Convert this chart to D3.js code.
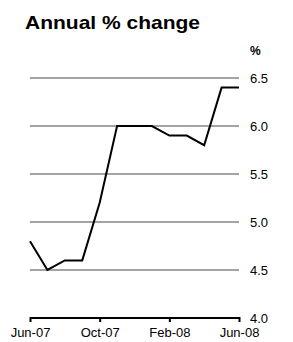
<!DOCTYPE html>
<html><head><meta charset="utf-8">
<script src="https://cdn.jsdelivr.net/npm/d3@7"></script>
<style>html,body{margin:0;padding:0;background:#fff;}svg{display:block;}</style>
</head><body>
<script>
const months = ["Jun-07","Jul-07","Aug-07","Sep-07","Oct-07","Nov-07","Dec-07","Jan-08","Feb-08","Mar-08","Apr-08","May-08","Jun-08"];
const values = [4.8,4.5,4.6,4.6,5.2,6.0,6.0,6.0,5.9,5.9,5.8,6.4,6.4];
const xTickLabels = ["Jun-07","Oct-07","Feb-08","Jun-08"];
const yTicks = [4.0,4.5,5.0,5.5,6.0,6.5];
const title = "Annual % change";
const unit = "%";

const W = 293, H = 342;
const svg = d3.select("body").append("svg").attr("width", W).attr("height", H);
const font = "Arial, 'Liberation Sans', sans-serif";

const x = d3.scalePoint().domain(months).range([30, 239]);
const y = d3.scaleLinear().domain([4.0, 6.5]).range([318, 78]);

svg.append("text").attr("x", 25).attr("y", 29).attr("font-family", font)
  .attr("font-weight", "bold").attr("font-size", 18.5)
  .attr("textLength", 175).attr("lengthAdjust", "spacingAndGlyphs")
  .text(title);

svg.append("text").attr("x", 250).attr("y", 55).attr("font-family", font)
  .attr("font-weight", "bold").attr("font-size", 12).text(unit);

// gridlines
svg.append("g").selectAll("line").data(yTicks.filter(d => d > 4.0)).join("line")
  .attr("x1", 30).attr("x2", 239)
  .attr("y1", d => y(d)).attr("y2", d => y(d))
  .attr("stroke", "#a3a3a3").attr("stroke-width", 2);

// y labels
const yAxis = d3.axisRight(y).tickValues(yTicks).tickFormat(d3.format(".1f")).tickSize(0).tickPadding(0);
const gy = svg.append("g").attr("transform", "translate(250,0)").call(yAxis);
gy.select(".domain").remove();
gy.selectAll("text").attr("font-family", font).attr("font-size", 13).attr("fill", "#000").attr("dy", "0.35em");

// x axis
const xAxis = d3.axisBottom(x).tickValues(xTickLabels).tickSize(4).tickSizeOuter(0).tickPadding(6);
const gx = svg.append("g").attr("transform", "translate(0,318)").call(xAxis);
gx.select(".domain").attr("stroke", "#000").attr("stroke-width", 2).attr("d", `M${x(months[0])},0H${x(months[months.length-1])}`);
gx.selectAll(".tick line").attr("stroke", "#000").attr("stroke-width", 2).attr("y1", -1);
gx.selectAll(".tick text").attr("font-family", font).attr("font-size", 13).attr("fill", "#000");

// line
const line = d3.line().x((d, i) => x(months[i])).y(d => y(d));
svg.append("path").datum(values).attr("d", line)
  .attr("fill", "none").attr("stroke", "#000").attr("stroke-width", 2);
</script>
</body></html>
